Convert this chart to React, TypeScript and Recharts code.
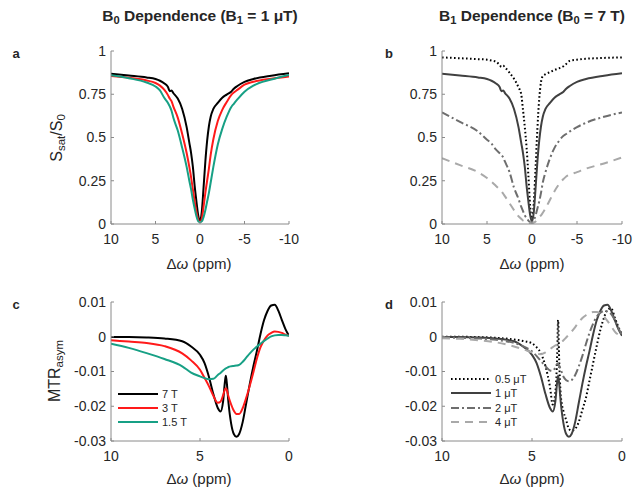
import React from 'react';
import { LineChart, Line, XAxis, YAxis } from 'recharts';

const FONT = '"Liberation Sans", Arial, Helvetica, sans-serif';
const TEXT = '#262626';
const BOX = '#8a8a8a';

// Z-spectra, offsets in ppm (panels a and b)
const zOffsets = [10, 8, 6, 5, 4.5, 4, 3.6, 3.4, 3.2, 3, 2.5, 2, 1.5, 1.2, 1, 0.8, 0.6, 0.4, 0.2, 0,
  -0.2, -0.4, -0.6, -0.8, -1, -1.2, -1.5, -2, -2.5, -3, -3.5, -3.8, -4.2, -5, -6, -8, -10];
const z7T = [0.868, 0.858, 0.847, 0.838, 0.828, 0.812, 0.792, 0.768, 0.772, 0.757, 0.725, 0.665, 0.56, 0.47, 0.41, 0.33, 0.22, 0.13, 0.05, 0.015,
  0.07, 0.21, 0.36, 0.48, 0.565, 0.62, 0.665, 0.70, 0.73, 0.748, 0.765, 0.782, 0.798, 0.822, 0.838, 0.857, 0.871];
const z3T = [0.855, 0.845, 0.83, 0.815, 0.80, 0.775, 0.745, 0.725, 0.71, 0.68, 0.615, 0.52, 0.41, 0.33, 0.27, 0.2, 0.13, 0.07, 0.025, 0.01,
  0.03, 0.10, 0.18, 0.25, 0.32, 0.40, 0.49, 0.595, 0.66, 0.705, 0.745, 0.76, 0.775, 0.805, 0.822, 0.84, 0.853];
const z15T = [0.86, 0.843, 0.818, 0.795, 0.772, 0.728, 0.70, 0.68, 0.655, 0.615, 0.54, 0.44, 0.33, 0.25, 0.2, 0.14, 0.09, 0.045, 0.015, 0.01,
  0.015, 0.04, 0.08, 0.13, 0.18, 0.24, 0.33, 0.46, 0.55, 0.62, 0.675, 0.695, 0.72, 0.765, 0.80, 0.835, 0.862];
const zB1_05 = [0.963, 0.958, 0.953, 0.95, 0.945, 0.938, 0.92, 0.908, 0.915, 0.905, 0.875, 0.84, 0.79, 0.75, 0.66, 0.56, 0.44, 0.28, 0.10, 0.02,
  0.12, 0.33, 0.55, 0.72, 0.82, 0.855, 0.866, 0.878, 0.89, 0.90, 0.912, 0.925, 0.943, 0.95, 0.955, 0.96, 0.963];
const zB1_1 = z7T;
const zB1_2 = [0.645, 0.59, 0.535, 0.487, 0.465, 0.43, 0.41, 0.40, 0.385, 0.36, 0.30, 0.21, 0.145, 0.10, 0.075, 0.05, 0.035, 0.02, 0.01, 0.005,
  0.02, 0.05, 0.09, 0.13, 0.18, 0.24, 0.30, 0.38, 0.44, 0.48, 0.51, 0.52, 0.535, 0.56, 0.585, 0.62, 0.645];
const zB1_4 = [0.38, 0.34, 0.30, 0.266, 0.245, 0.22, 0.20, 0.19, 0.175, 0.16, 0.12, 0.08, 0.045, 0.03, 0.02, 0.015, 0.01, 0.007, 0.004, 0.003,
  0.008, 0.015, 0.025, 0.04, 0.05, 0.065, 0.09, 0.14, 0.19, 0.23, 0.26, 0.275, 0.285, 0.30, 0.32, 0.35, 0.385];

// MTRasym, offsets in ppm (panels c and d)
const asymOffsets = [10, 9, 8, 7, 6, 5.5, 5, 4.75, 4.5, 4.25, 4, 3.85, 3.7, 3.6, 3.55, 3.5, 3.4, 3.25, 3.1, 2.95,
  2.8, 2.6, 2.4, 2.2, 2, 1.8, 1.6, 1.4, 1.2, 1, 0.8, 0.6, 0.4, 0.2, 0];
const asym7T = [-0.0001, -0.0001, -0.0002, -0.0005, -0.0013, -0.0028, -0.0052, -0.0075, -0.0115, -0.0165, -0.0205, -0.0215, -0.0185, -0.013, -0.0112, -0.013, -0.019, -0.025, -0.028, -0.0288,
  -0.028, -0.0245, -0.019, -0.0135, -0.0085, -0.004, 0.0008, 0.0048, 0.0075, 0.009, 0.0092, 0.0075, 0.0048, 0.0022, 0.0003];
const asym3T = [-0.001, -0.0014, -0.0018, -0.0027, -0.0048, -0.0068, -0.0095, -0.0118, -0.0142, -0.017, -0.019, -0.0187, -0.0168, -0.0152, -0.0148, -0.0152, -0.0172, -0.0195, -0.0213, -0.0222,
  -0.0222, -0.0205, -0.0175, -0.014, -0.0102, -0.0062, -0.003, -0.001, 0.0004, 0.0011, 0.0015, 0.0014, 0.0011, 0.0006, 0.0003];
const asym15T = [-0.002, -0.0032, -0.0047, -0.0064, -0.0085, -0.0103, -0.0114, -0.0119, -0.0122, -0.0121, -0.011, -0.0104, -0.0097, -0.0093, -0.0091, -0.009, -0.0087, -0.0085, -0.0084, -0.0083,
  -0.0081, -0.0072, -0.006, -0.0048, -0.0037, -0.0028, -0.002, -0.0012, -0.0005, 0.0001, 0.0004, 0.0005, 0.0005, 0.0004, 0.0003];
const asymB1_05 = [0, 0, -0.0001, -0.0003, -0.0008, -0.0012, -0.0019, -0.003, -0.0048, -0.0085, -0.0145, -0.0195, -0.016, -0.005, 0.0048, -0.005, -0.017, -0.0215, -0.024, -0.0265,
  -0.027, -0.0265, -0.0245, -0.021, -0.0175, -0.0125, -0.0075, -0.0025, 0.002, 0.0055, 0.0078, 0.0082, 0.0055, 0.0028, 0.0006];
const asymB1_1 = asym7T;
const asymB1_2 = [-0.0002, -0.0003, -0.0005, -0.0009, -0.0018, -0.0027, -0.0042, -0.0055, -0.007, -0.0085, -0.0097, -0.0098, -0.0088, -0.0078, -0.0077, -0.0082, -0.0095, -0.0115, -0.0125, -0.0128,
  -0.0125, -0.011, -0.0085, -0.0055, -0.002, 0.0012, 0.0038, 0.0058, 0.0069, 0.0074, 0.0073, 0.0065, 0.0048, 0.0025, 0.0005];
const asymB1_4 = [-0.0004, -0.0006, -0.001, -0.0016, -0.0028, -0.0036, -0.0045, -0.0049, -0.005, -0.0045, -0.0036, -0.003, -0.0025, -0.0023, -0.0022, -0.0022, -0.0018, -0.001, -0.0002, 0.0006,
  0.0015, 0.0028, 0.0042, 0.0054, 0.0062, 0.0068, 0.0071, 0.0071, 0.0067, 0.0058, 0.0045, 0.003, 0.0015, 0.0006, 0.0003];

const zTicksX = [10, 5, 0, -5, -10];
const zTicksY = [0, 0.25, 0.5, 0.75, 1];
const asymTicksX = [10, 5, 0];
const asymTicksY = [-0.03, -0.02, -0.01, 0, 0.01];

const legendB0 = ['7 T', '3 T', '1.5 T'];
const legendB1 = ['0.5 \u03bcT', '1 \u03bcT', '2 \u03bcT', '4 \u03bcT'];

const b0Styles = [
  { color: '#000000' },
  { color: '#ff1a1a' },
  { color: '#17a085' },
];
const b1Styles = [
  { color: '#000000', dash: '1.6 2.4' },
  { color: '#404040' },
  { color: '#6e6e6e', dash: '8 3 2 3' },
  { color: '#a9a9a9', dash: '8 6' },
];

const zRows = (series: number[][]) =>
  zOffsets.map((x, i) => {
    const row: any = { x };
    series.forEach((s, k) => (row['s' + k] = s[i]));
    return row;
  });
const asymRows = (series: number[][]) =>
  asymOffsets.map((x, i) => {
    const row: any = { x };
    series.forEach((s, k) => (row['s' + k] = s[i]));
    return row;
  });

const tickStyle = { fill: TEXT, fontSize: 14, fontFamily: FONT };

function Panel({ left, top, height, plot, data, count, styles, xDomain, xTicks, yDomain, yTicks }: any) {
  const W = 320;
  const yW = 60;
  const xH = 30;
  const margin = {
    left: plot.left - left - yW,
    right: left + W - plot.right,
    top: plot.top - top,
    bottom: top + height - plot.bottom - xH,
  };
  return (
    <div style={{ position: 'absolute', left, top }}>
      <LineChart width={W} height={height} data={data} margin={margin}>
        <XAxis
          type="number"
          dataKey="x"
          domain={xDomain}
          ticks={xTicks}
          reversed
          allowDataOverflow
          height={xH}
          stroke={BOX}
          tickSize={-3}
          tickMargin={13}
          tick={tickStyle}
          interval={0}
        />
        <XAxis
          xAxisId="top"
          orientation="top"
          type="number"
          dataKey="x"
          domain={xDomain}
          ticks={xTicks}
          reversed
          allowDataOverflow
          height={0}
          stroke={BOX}
          tickSize={-3}
          tickFormatter={() => ''}
          interval={0}
        />
        <YAxis
          type="number"
          domain={yDomain}
          ticks={yTicks}
          allowDataOverflow
          width={yW}
          stroke={BOX}
          tickSize={-3}
          tickMargin={8}
          tick={tickStyle}
          tickFormatter={(v: number) => String(v)}
          interval={0}
        />
        <YAxis
          yAxisId="r"
          orientation="right"
          type="number"
          domain={yDomain}
          ticks={yTicks}
          allowDataOverflow
          width={0}
          stroke={BOX}
          tickSize={-3}
          tickFormatter={() => ''}
          interval={0}
        />
        {Array.from({ length: count }).map((_, k) => (
          <Line
            key={k}
            dataKey={'s' + k}
            type="monotone"
            stroke={styles[k].color}
            strokeWidth={2}
            strokeDasharray={styles[k].dash}
            dot={false}
            activeDot={false}
            isAnimationActive={false}
          />
        ))}
      </LineChart>
    </div>
  );
}

function LegendBox({ left, top, labels, styles, rowH }: any) {
  return (
    <div style={{ position: 'absolute', left, top, fontFamily: FONT, fontSize: 11, color: TEXT }}>
      {labels.map((lab: string, i: number) => (
        <div key={lab} style={{ display: 'flex', alignItems: 'center', height: rowH }}>
          <svg width={40} height={6} style={{ display: 'block' }}>
            <line x1={0} x2={40} y1={3} y2={3} stroke={styles[i].color} strokeWidth={2} strokeDasharray={styles[i].dash} />
          </svg>
          <span style={{ marginLeft: 4, whiteSpace: 'nowrap' }}>{lab}</span>
        </div>
      ))}
    </div>
  );
}

const abs = (x: number, y: number, extra: any = {}) => ({
  position: 'absolute' as const,
  left: x,
  top: y,
  transform: 'translate(-50%, -50%)',
  whiteSpace: 'nowrap' as const,
  fontFamily: FONT,
  color: TEXT,
  ...extra,
});

const subStyle = { fontSize: '72%', verticalAlign: '-0.3em', lineHeight: 0 };

function XLabel({ x, y }: any) {
  return (
    <div style={abs(x, y, { fontSize: 15 })}>
      {'\u0394'}<i>{'\u03c9'}</i> (ppm)
    </div>
  );
}

export default function App() {
  const plotA = { left: 111, right: 289, top: 51, bottom: 224 };
  const plotB = { left: 442, right: 622, top: 51, bottom: 224 };
  const plotC = { left: 111, right: 289, top: 302, bottom: 441 };
  const plotD = { left: 442, right: 622, top: 302, bottom: 441 };

  return (
    <div style={{ position: 'absolute', left: 0, top: 0, width: 639, height: 495, background: '#fff', overflow: 'hidden' }}>
      <div style={abs(200, 16, { fontSize: 15.5, fontWeight: 700 })}>
        B<span style={subStyle}>0</span> Dependence (B<span style={subStyle}>1</span> = 1 {'\u03bc'}T)
      </div>
      <div style={abs(532, 16, { fontSize: 15.5, fontWeight: 700 })}>
        B<span style={subStyle}>1</span> Dependence (B<span style={subStyle}>0</span> = 7 T)
      </div>

      <Panel left={0} top={0} height={280} plot={plotA} data={zRows([z7T, z3T, z15T])} count={3} styles={b0Styles}
        xDomain={[-10, 10]} xTicks={zTicksX} yDomain={[0, 1]} yTicks={zTicksY} />
      <Panel left={320} top={0} height={280} plot={plotB} data={zRows([zB1_05, zB1_1, zB1_2, zB1_4])} count={4} styles={b1Styles}
        xDomain={[-10, 10]} xTicks={zTicksX} yDomain={[0, 1]} yTicks={zTicksY} />
      <Panel left={0} top={250} height={245} plot={plotC} data={asymRows([asym7T, asym3T, asym15T])} count={3} styles={b0Styles}
        xDomain={[0, 10]} xTicks={asymTicksX} yDomain={[-0.03, 0.01]} yTicks={asymTicksY} />
      <Panel left={320} top={250} height={245} plot={plotD} data={asymRows([asymB1_05, asymB1_1, asymB1_2, asymB1_4])} count={4} styles={b1Styles}
        xDomain={[0, 10]} xTicks={asymTicksX} yDomain={[-0.03, 0.01]} yTicks={asymTicksY} />

      <LegendBox left={118} top={387} labels={legendB0} styles={b0Styles} rowH={14} />
      <LegendBox left={451} top={372} labels={legendB1} styles={b1Styles} rowH={14.3} />

      <div style={abs(16, 53, { fontSize: 13, fontWeight: 700 })}>a</div>
      <div style={abs(389, 53, { fontSize: 13, fontWeight: 700 })}>b</div>
      <div style={abs(16, 304, { fontSize: 13, fontWeight: 700 })}>c</div>
      <div style={abs(389, 304, { fontSize: 13, fontWeight: 700 })}>d</div>

      <div style={abs(57, 138, { fontSize: 16, transform: 'translate(-50%, -50%) rotate(-90deg)' })}>
        S<span style={subStyle}>sat</span>/S<span style={subStyle}>0</span>
      </div>
      <div style={abs(55, 371, { fontSize: 16, transform: 'translate(-50%, -50%) rotate(-90deg)' })}>
        MTR<span style={subStyle}>asym</span>
      </div>

      <XLabel x={199} y={263} />
      <XLabel x={532} y={263} />
      <XLabel x={199} y={478} />
      <XLabel x={532} y={478} />
    </div>
  );
}
